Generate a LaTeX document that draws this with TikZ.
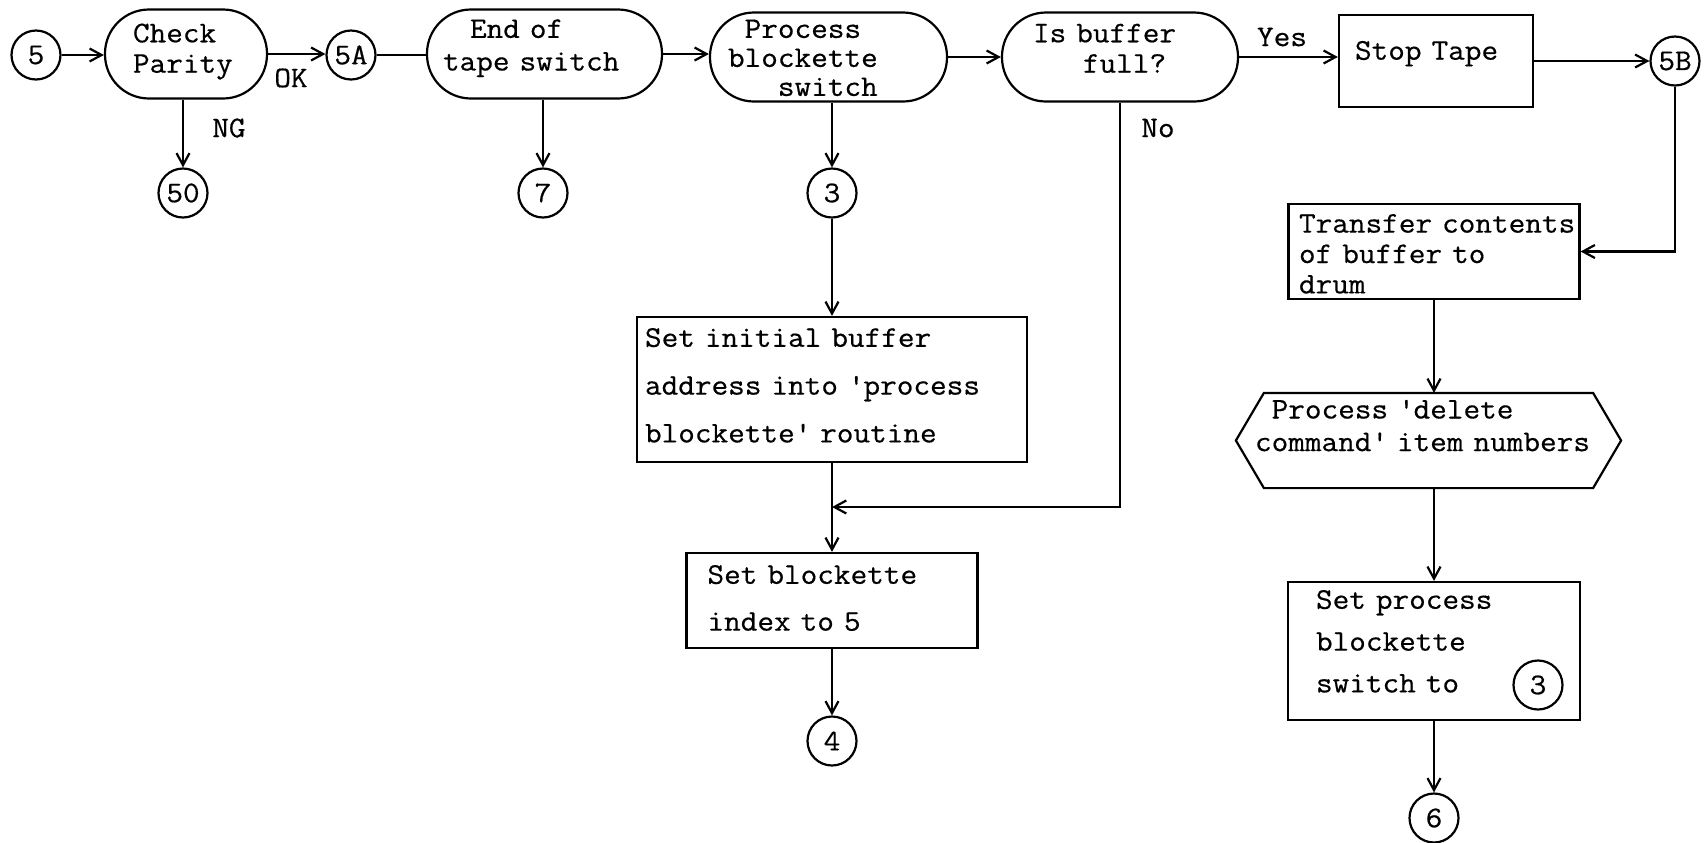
\documentclass[tikz,border=0pt]{standalone}
\usepackage{fontspec}
\usepackage{tikz}
\usetikzlibrary{arrows.meta, positioning}
\newfontfamily\typew{Latin Modern Mono}[FakeStretch=1.077, FakeBold=0.5]

\begin{document}
\begin{tikzpicture}[x=0.5pt, y=-0.5pt, line width=1.1pt,
  >={Straight Barb[length=6pt, width=6.5pt]},
  every node/.style={font=\typew\fontsize{15}{15}\selectfont},
  lead/.style={font=\typew\fontsize{15}{#1}\selectfont},
  lift/.style={text height=0pt, text depth=#1},
  term/.style={draw, rectangle, rounded corners=22pt, minimum height=44.5pt,
    inner sep=0pt, align=left},
  proc/.style={draw, rectangle, inner sep=0pt, align=left},
  conn/.style={draw, circle, minimum size=24.5pt, inner sep=0pt}]
  \useasboundingbox (0,0) rectangle (1705,842);

  \node[conn] (c5) at (36,55) {5};
  \node[term, minimum width=81pt, text width=53pt, lead=15.2pt, lift=11.7pt] (cp) at (186,54) {Check\\Parity};
  \node[conn] (c5A) at (351,55) {5A};
  \node[term, minimum width=117.5pt, text width=101.5pt, lead=16.3pt, lift=16.1pt] (eot) at (544.5,54)
    {\hspace*{13.5pt}End~of\\tape~switch};
  \node[term, minimum width=118.5pt, text width=100.5pt, lead=14.5pt, lift=19.1pt] (pbs) at (828.5,57)
    {\phantom{b}Process\\blockette\\\phantom{blo}switch};
  \node[term, minimum width=118pt, text width=87pt, lead=15.2pt, lift=14.7pt] (ibf) at (1120,57)
    {Is~buffer\\\phantom{Isb}full?};
  \node[proc, minimum width=97pt, minimum height=46pt, text width=81pt, lift=1.3pt] (st) at (1436,61)
    {Stop~Tape};
  \node[conn] (c5B) at (1675,61) {5B};

  \node (ok) at (291,78) {OK};
  \node (ng) at (229,128) {NG};
  \node (yes) at (1282,37) {Yes};
  \node (no) at (1158,128) {No};

  \node[conn] (c50) at (183,193) {50};
  \node[conn] (c7) at (543,193) {7};
  \node[conn] (c3) at (832,193) {3};
  \node[proc, minimum width=195pt, minimum height=72.5pt, text width=187pt, lead=23.9pt, lift=42.7pt] (si) at (832,389.5)
    {Set~initial~buffer\\\mbox{address into \textquotesingle process}\\blockette\textquotesingle~routine};
  \coordinate (jn) at (832,507);
  \node[proc, minimum width=145.5pt, minimum height=47.5pt, text width=124.5pt, lead=23.4pt, lift=16.7pt] (sb) at (832,600.5)
    {Set~blockette\\index~to~5};
  \node[conn] (c4) at (832,741) {4};

  \node[proc, minimum width=145.5pt, minimum height=47.5pt, text width=135pt, lead=15.2pt, lift=18.9pt] (tr) at (1434,251.5)
    {\mbox{Transfer contents}\\of~buffer~to\\drum};
  \node[minimum width=191.5pt, minimum height=46.5pt, text width=173.5pt, inner sep=0pt, align=left,
    lead=16.3pt, lift=22pt] (hx) at (1428.5,440.5)
    {\mbox{\phantom{c}Process \textquotesingle delete}\\\mbox{command\textquotesingle\ item numbers}};
  \draw (hx.west) -- ([xshift=14pt]hx.north west) -- ([xshift=-14pt]hx.north east) -- (hx.east)
    -- ([xshift=-14pt]hx.south east) -- ([xshift=14pt]hx.south west) -- cycle;
  \node[proc, minimum width=146pt, minimum height=69pt, text width=118pt, lead=20.9pt, lift=42.2pt] (sp) at (1434,651)
    {Set~process\\blockette\\switch~to};
  \node[conn] (c3b) at (1538,685) {3};
  \node[conn] (c6) at (1434,818) {6};

  \foreach \s/\t in {c5/cp, cp/c5A, eot/pbs, pbs/ibf, ibf/st, st/c5B}
    \draw[->] (\s.east) -- (\s.east -| \t.west);
  \draw (c5A.east) -- (c5A.east -| eot.west);
  \foreach \s/\t in {cp/c50, eot/c7, pbs/c3}
    \draw[->] (\s.south -| \t) -- (\t);
  \foreach \s/\t in {c3/si, si/sb, sb/c4, sp/c6}
    \draw[->] (\s) -- (\t);
  \draw[->] (ibf.south) |- (jn);
  \draw[->] (c5B) |- (tr.east);
  \draw[->] (tr.south) -- (tr.south |- hx.north);
  \draw[->] (hx.south -| sp.north) -- (sp.north);
\end{tikzpicture}
\end{document}
